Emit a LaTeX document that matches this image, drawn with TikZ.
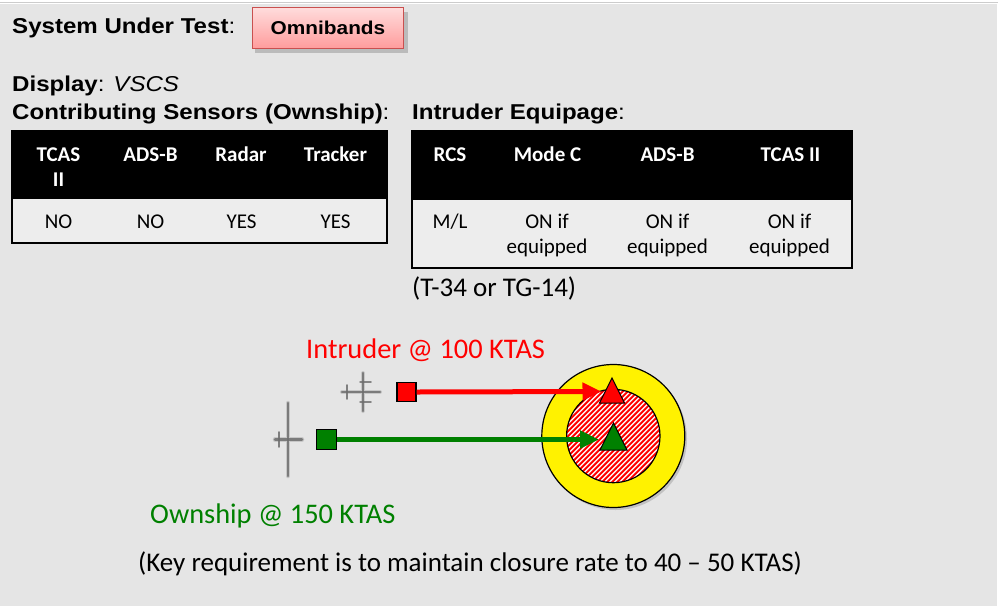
\documentclass[tikz,border=0pt]{standalone}
\usepackage{fontspec}
\usetikzlibrary{arrows.meta}
\setmainfont{Carlito}
\newfontfamily\arialf{Liberation Sans}[FakeStretch=1.12]
\newfontfamily\calf{Carlito}
\definecolor{bggray}{HTML}{E5E5E5}
\definecolor{bodygray}{HTML}{EDEDED}
\definecolor{okgreen}{HTML}{008000}
\definecolor{boxedge}{HTML}{C9504F}
\definecolor{boxtop}{HTML}{FFDCDC}
\definecolor{boxbot}{HTML}{FF9C9C}
\definecolor{planegray}{HTML}{6E6E6E}
\begin{document}
\begin{tikzpicture}[x=1pt,y=-1pt,
  hdr/.style={font=\arialf\fontsize{21.5}{25}\selectfont, inner sep=0pt, anchor=base west},
  tabhd/.style={font=\calf\fontsize{21}{25}\selectfont\bfseries, text=white, inner sep=0pt, anchor=base},
  tabtx/.style={font=\calf\fontsize{21}{25}\selectfont, inner sep=0pt, anchor=base},
  label/.style={font=\calf\fontsize{28.4}{32}\selectfont, inner sep=0pt, anchor=base west},
  note/.style={font=\calf\fontsize{27}{31}\selectfont, inner sep=0pt, anchor=base west},
  tabframe/.style={draw=black, line width=2pt, fill=bodygray},
  marker/.style={draw=black, line width=1.3pt, minimum size=19pt, inner sep=0pt},
  track/.style={line width=5pt, -{Triangle[length=19pt,width=17pt]}},
  plane/.style={planegray, line cap=round},
  tri/.style={draw=black, line width=1pt, line join=miter}
]
\useasboundingbox (0,0) rectangle (998,606);
% page background
\fill[white] (0,0) rectangle (998,606);
\draw[gray!40, line width=0.6pt] (0,2.5) -- (998,2.5);
\fill[bggray] (0,4) rectangle (997,606);

% header block
\node[hdr] (sut) at (12,33) {\bfseries System Under Test\mdseries:};
\fill[black, opacity=0.18] (255,12) rectangle (408,53);
\node[draw=boxedge, line width=1.5pt, top color=boxtop, bottom color=boxbot,
      minimum width=151pt, minimum height=41pt, inner sep=0pt,
      font=\arialf\fontsize{18.6}{22}\selectfont\bfseries] (omni) at (328,28) {Omnibands};
\node[hdr] (disp) at (12,91) {\bfseries Display\mdseries: \itshape VSCS};
\node[hdr] (sens) at (12,119) {\bfseries Contributing Sensors (Ownship)\mdseries:};
\node[hdr] (equip) at (412,119) {\bfseries Intruder Equipage\mdseries:};

% ownship sensor table
\draw[tabframe] (12,131) rectangle (387,243);
\fill[black] (12,131) rectangle (387,199);
\draw[line width=2pt] (12,131) rectangle (387,243);
\node[tabhd] (s1a) at (58.5,161) {TCAS};
\node[tabhd] (s1b) at (58.5,186.5) {II};
\node[tabhd] (s2) at (150.5,161) {ADS-B};
\node[tabhd] (s3) at (241,161) {Radar};
\node[tabhd] (s4) at (335.5,161) {Tracker};
\node[tabtx] (v1) at (58.5,228.5) {NO};
\node[tabtx] (v2) at (150.5,228.5) {NO};
\node[tabtx] (v3) at (241.5,228.5) {YES};
\node[tabtx] (v4) at (335.5,228.5) {YES};

% intruder equipage table
\draw[tabframe] (412,131) rectangle (852,268);
\fill[black] (412,131) rectangle (852,199.5);
\draw[line width=2pt] (412,131) rectangle (852,268);
\node[tabhd] (e1) at (450,161) {RCS};
\node[tabhd] (e2) at (547.5,161) {Mode C};
\node[tabhd] (e3) at (667.5,161) {ADS-B};
\node[tabhd] (e4) at (790.5,161) {TCAS II};
\node[tabtx] (q1) at (450,228.5) {M/L};
\node[tabtx] (q2a) at (547,228.5) {ON if};
\node[tabtx] (q2b) at (547,253) {equipped};
\node[tabtx] (q3a) at (667.5,228.5) {ON if};
\node[tabtx] (q3b) at (667.5,253) {equipped};
\node[tabtx] (q4a) at (789.5,228.5) {ON if};
\node[tabtx] (q4b) at (789.5,253) {equipped};
\node[note] (tg) at (412,296) {(T-34 or TG-14)};

% encounter geometry: outer zone and hatched inner zone
\fill[black, opacity=0.15] (615.5,438.5) circle (71.5);
\draw[fill=yellow, line width=1.2pt] (613.3,436) circle (71.5);
\fill[white] (613.3,436) circle (46.7);
\begin{scope}
  \clip (613.3,436) circle (46.7);
  \foreach \k in {-15,...,15}
    \draw[red, line width=1.9pt] ({613.3+5*\k-60},496) -- ({613.3+5*\k+60},376);
\end{scope}
\draw[line width=1.2pt] (613.3,436) circle (46.7);

% intruder aircraft icon (top view, heading right)
\begin{scope}[plane]
  \draw[line width=4pt, opacity=0.25] (342,392) -- (380,392) (363,373) -- (363,411);
  \draw[line width=2.6pt, opacity=0.85] (342,392) -- (380,392);
  \draw[line width=2.2pt, opacity=0.85] (363,373) -- (363,411);
  \draw[line width=1.6pt, opacity=0.85] (347,385) -- (347,399);
  \draw[line width=1.5pt, opacity=0.8] (360,382) -- (371,382) (360,402) -- (371,402);
\end{scope}
% ownship aircraft icon (top view, heading right)
\begin{scope}[plane]
  \draw[line width=4.5pt, opacity=0.25] (275,439.5) -- (302,439.5) (288,403) -- (288,476);
  \draw[line width=2.6pt, opacity=0.85] (275,439.5) -- (302,439.5);
  \draw[line width=2.6pt, opacity=0.85] (288,403) -- (288,476);
  \draw[line width=1.6pt, opacity=0.85] (279,432) -- (279,447);
\end{scope}

% targets
\draw[tri, fill=okgreen] (613.5,423) -- (627,450) -- (600,450) -- cycle;
\coordinate (gtip) at (599,439.5);
\draw[tri, fill=red] (612,378) -- (624.5,403) -- (599.5,403) -- cycle;
\coordinate (rtip) at (601.5,391.5);

% intruder and ownship tracks
\node[marker, fill=red] (rsq) at (406.5,392) {};
\node[marker, fill=okgreen, minimum size=20pt] (gsq) at (326.5,439.5) {};
\draw[track, red] (rsq.east) -- (rtip);
\draw[track, okgreen] (gsq.east) -- (gtip);

% labels
\node[label, text=red] (intr) at (306,358) {Intruder @ 100 KTAS};
\node[label, text=okgreen] (own) at (150,523) {Ownship @ 150 KTAS};
\node[note] (key) at (138,571) {(Key requirement is to maintain closure rate to 40 – 50 KTAS)};
\end{tikzpicture}
\end{document}
